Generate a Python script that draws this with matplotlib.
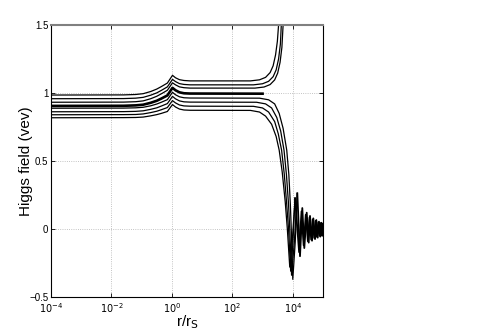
import numpy as np
import matplotlib
matplotlib.use("Agg")
import matplotlib.pyplot as plt

plt.rcParams['font.family'] = ['Liberation Sans', 'DejaVu Sans']

# all x values are log10(r/r_S)
bump_x = [-4, -1.6, -1.2, -0.95, -0.7, -0.5, -0.35, -0.15, 0.02, 0.12, 0.25, 0.4, 0.6]

# curves that blow up (above the critical one)
u1_y = [0.985, 0.986, 0.989, 0.995, 1.011, 1.029, 1.047, 1.073, 1.13, 1.112, 1.098, 1.092, 1.089]
u1_tail_x = [2.6, 2.9, 3.1, 3.25, 3.35, 3.43, 3.49, 3.53, 3.56]
u1_tail_y = [1.089, 1.097, 1.115, 1.15, 1.2, 1.28, 1.38, 1.5, 1.6]
u2_y = [0.958, 0.959, 0.962, 0.968, 0.984, 1.001, 1.019, 1.045, 1.10, 1.084, 1.069, 1.063, 1.060]
u2_tail_x = [2.7, 3.0, 3.2, 3.35, 3.45, 3.53, 3.59, 3.62, 3.65]
u2_tail_y = [1.060, 1.068, 1.086, 1.12, 1.17, 1.25, 1.36, 1.5, 1.6]
u3_y = [0.932, 0.933, 0.936, 0.942, 0.958, 0.976, 0.994, 1.020, 1.075, 1.060, 1.045, 1.039, 1.036]
u3_tail_x = [2.75, 3.05, 3.25, 3.4, 3.5, 3.58, 3.64, 3.68, 3.71]
u3_tail_y = [1.036, 1.044, 1.062, 1.096, 1.146, 1.226, 1.336, 1.5, 1.6]

# critical (bold) solution
crit_y = [0.905, 0.906, 0.909, 0.914, 0.928, 0.943, 0.959, 0.982, 1.038, 1.02, 1.005, 0.998, 0.996]
crit_tail_x = [3.0]
crit_tail_y = [0.995]

# curves that fall and oscillate (below the critical one)
l1_y = [0.888, 0.889, 0.891, 0.895, 0.906, 0.919, 0.932, 0.951, 1.005, 0.987, 0.972, 0.965, 0.963]
l1_tail_x = [2.9, 3.2, 3.4, 3.55, 3.68, 3.80, 3.87, 3.92, 3.95, 4.0, 4.08, 4.15]
l1_tail_y = [0.962, 0.95, 0.92, 0.85, 0.74, 0.58, 0.40, 0.18, 0.0, -0.37, -0.1, 0.262]
l2_y = [0.862, 0.863, 0.865, 0.869, 0.880, 0.891, 0.904, 0.922, 0.975, 0.957, 0.942, 0.935, 0.933]
l2_tail_x = [2.8, 3.1, 3.3, 3.47, 3.6, 3.71, 3.79, 3.86, 3.90, 3.96, 4.05, 4.15]
l2_tail_y = [0.932, 0.92, 0.89, 0.82, 0.72, 0.58, 0.40, 0.18, 0.0, -0.34, -0.1, 0.262]
l3_y = [0.840, 0.841, 0.842, 0.846, 0.856, 0.866, 0.877, 0.893, 0.944, 0.927, 0.912, 0.905, 0.903]
l3_tail_x = [2.7, 3.0, 3.2, 3.4, 3.52, 3.63, 3.72, 3.80, 3.86, 3.93, 4.0, 4.075]
l3_tail_y = [0.902, 0.89, 0.86, 0.79, 0.70, 0.58, 0.40, 0.18, 0.0, -0.31, -0.12, 0.226]
l4_y = [0.818, 0.819, 0.820, 0.823, 0.832, 0.841, 0.850, 0.864, 0.915, 0.897, 0.882, 0.875, 0.873]
l4_tail_x = [2.6, 2.9, 3.1, 3.3, 3.45, 3.55, 3.65, 3.75, 3.82, 3.90, 3.98, 4.075]
l4_tail_y = [0.872, 0.86, 0.83, 0.77, 0.68, 0.58, 0.42, 0.2, 0.0, -0.28, -0.1, 0.226]

# damped oscillations
osc_a_x = [4.15, 4.239, 4.315, 4.381, 4.461, 4.527, 4.570, 4.637, 4.680, 4.736, 4.779, 4.825, 4.868, 4.911, 4.944, 4.977, 5.0]
osc_a_y = [0.262, -0.20, 0.154, -0.14, 0.12, -0.10, 0.096, -0.086, 0.078, -0.074, 0.066, -0.064, 0.054, -0.056, 0.046, -0.05, 0.0]
osc_b_x = [4.075, 4.21, 4.29, 4.36, 4.43, 4.50, 4.555, 4.61, 4.66, 4.71, 4.755, 4.80, 4.845, 4.89, 4.93, 4.96, 4.99, 5.0]
osc_b_y = [0.226, -0.17, 0.13, -0.12, 0.105, -0.09, 0.085, -0.078, 0.07, -0.066, 0.06, -0.058, 0.05, -0.05, 0.044, -0.042, 0.04, 0.0]

fig = plt.figure(figsize=(4.86, 3.34), dpi=100)
ax = fig.add_axes([51 / 486, 37 / 334, 272 / 486, 272 / 334])

for ys, tx, ty in [(u1_y, u1_tail_x, u1_tail_y), (u2_y, u2_tail_x, u2_tail_y),
                   (u3_y, u3_tail_x, u3_tail_y), (l1_y, l1_tail_x, l1_tail_y),
                   (l2_y, l2_tail_x, l2_tail_y), (l3_y, l3_tail_x, l3_tail_y),
                   (l4_y, l4_tail_x, l4_tail_y)]:
    ax.plot(np.power(10.0, bump_x + tx), ys + ty, color='black', lw=0.9)
ax.plot(np.power(10.0, osc_a_x), osc_a_y, color='black', lw=1.3)
ax.plot(np.power(10.0, osc_b_x), osc_b_y, color='black', lw=1.3)
ax.plot(np.power(10.0, bump_x + crit_tail_x), crit_y + crit_tail_y, color='black', lw=1.9)

ax.set_xscale('log')
ax.set_xlim(1e-4, 1e5)
ax.set_ylim(-0.5, 1.5)
ax.set_xticks([1e-4, 1e-2, 1e0, 1e2, 1e4])
ax.set_xticklabels(['$10^{-4}$', '$10^{-2}$', '$10^{0}$', '$10^{2}$', '$10^{4}$'])
ax.minorticks_off()
ax.set_yticks([-0.5, 0, 0.5, 1, 1.5])
ax.set_yticklabels(['\u22120.5', '0', '0.5', '1', '1.5'])
ax.tick_params(direction='in', length=3, width=0.6, labelsize=7, top=True, right=True, pad=2)
ax.tick_params(axis='x', pad=3)
ax.grid(True, linestyle=':', color='#b0b0b0', lw=0.6)
for s in ax.spines.values():
    s.set_linewidth(0.8)
ax.spines['top'].set_color('#808080')
ax.spines['top'].set_linewidth(1.5)

ax.set_xlabel('r/r$_\\mathrm{S}$', fontsize=11, labelpad=-1)
ax.set_ylabel('Higgs field (vev)', fontsize=11, labelpad=-3)

fig.savefig('out.png', dpi=100)
